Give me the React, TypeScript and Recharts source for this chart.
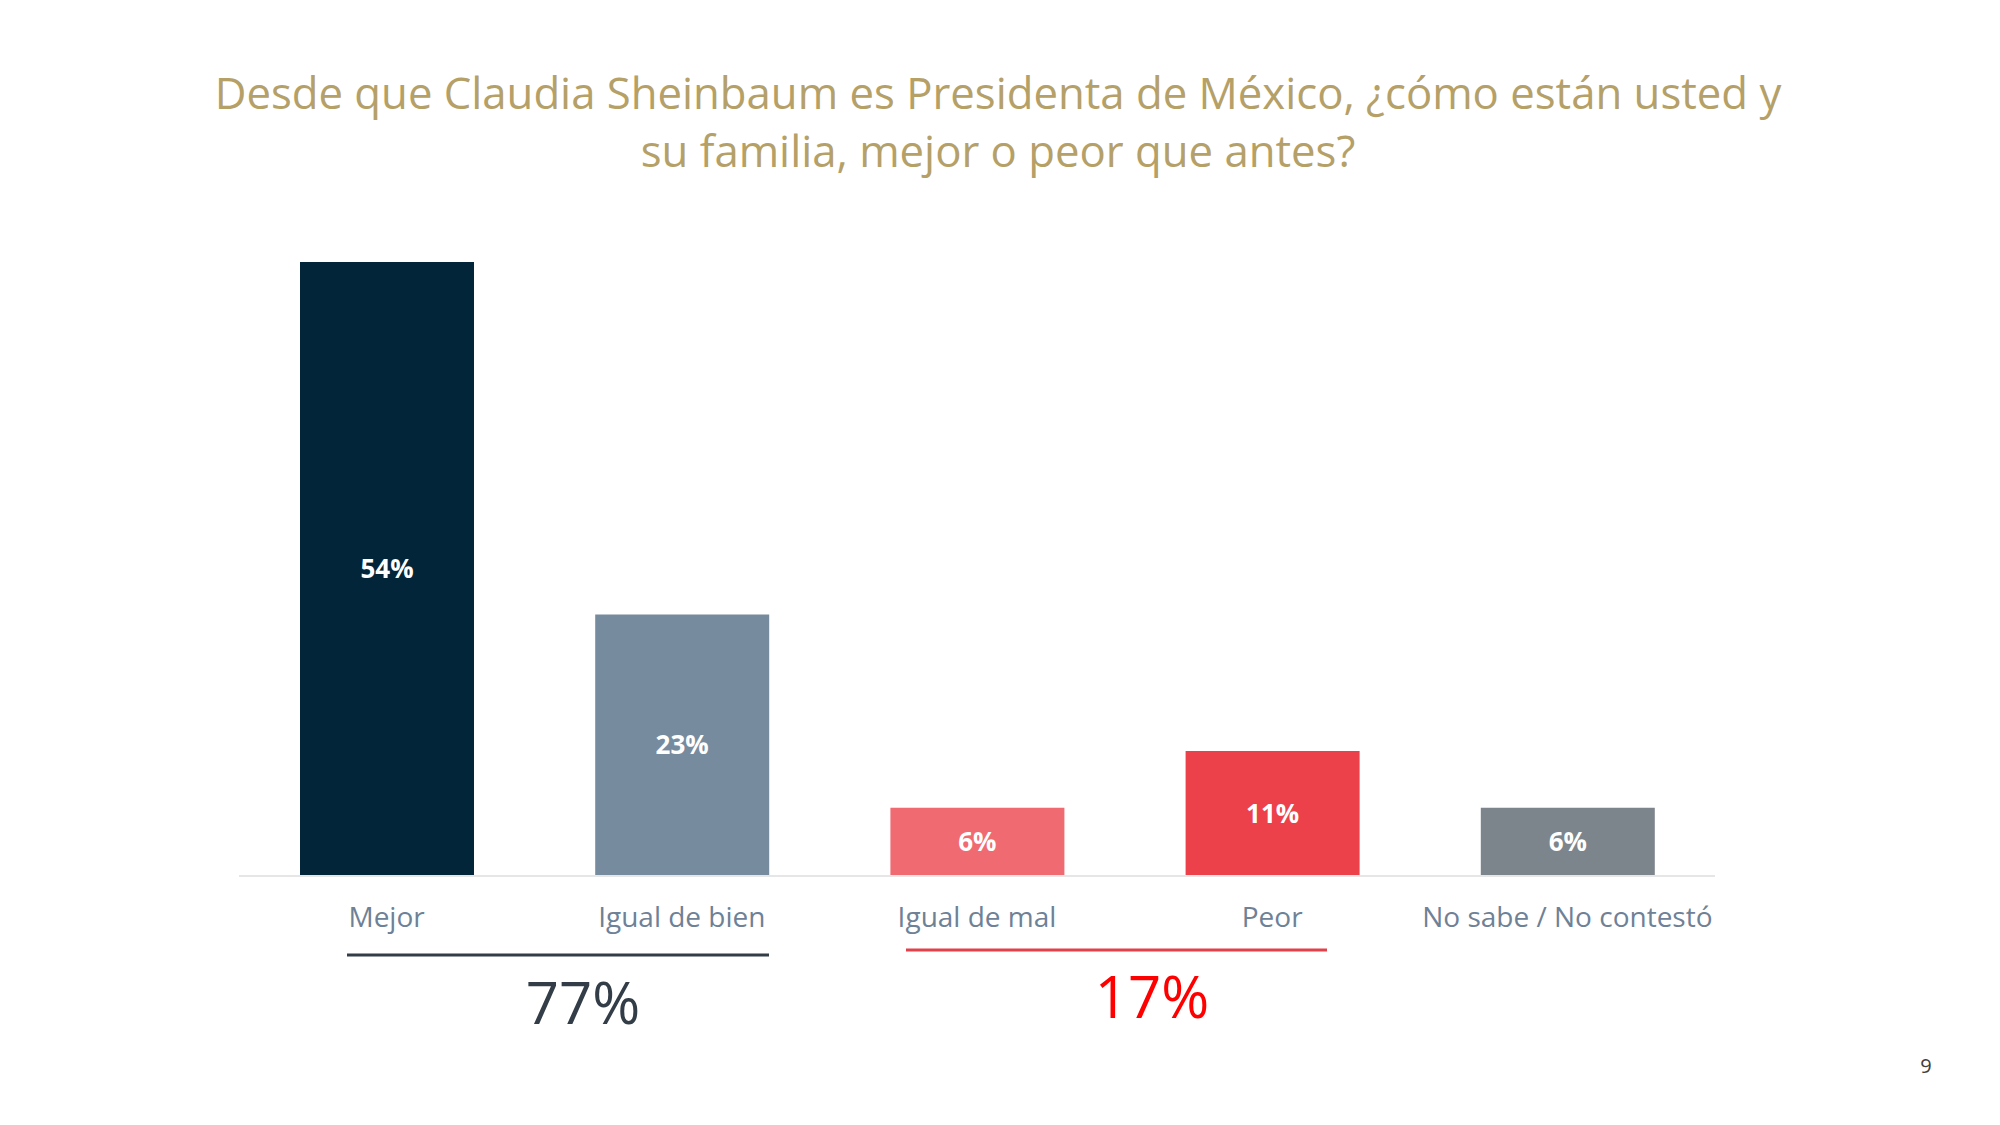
import React from "react"
import { BarChart, Bar, XAxis, YAxis, Cell, LabelList } from "recharts"

const categories = ["Mejor", "Igual de bien", "Igual de mal", "Peor", "No sabe / No contestó"]
const values = [54, 23, 6, 11, 6]
const barColors = ["#032539", "#778B9E", "#F06A72", "#EC404A", "#7D858C"]

// grupos: índices de categorías sumadas
const positiveGroup = [0, 1]
const negativeGroup = [2, 3]

const title = [
  "Desde que Claudia Sheinbaum es Presidenta de México, ¿cómo están usted y",
  "su familia, mejor o peor que antes?",
]

const data = categories.map((name, i) => ({ name, value: values[i] }))
const sumOf = (idx: number[]) => idx.reduce((s, i) => s + values[i], 0)

const FONT = "'Open Sans', sans-serif"

function CategoryTick(props: any) {
  const { x, y, payload } = props
  return (
    <text x={x} y={y + 43} textAnchor="middle" fill="#6E8196" fontSize={28} fontFamily={FONT}>
      {payload.value}
    </text>
  )
}

export default function App() {
  return (
    <div style={{ position: "absolute", left: 0, top: 0, width: 2000, height: 1125, background: "#fff", fontFamily: FONT }}>
      {/* Título */}
      <svg width={2000} height={200} style={{ position: "absolute", left: 0, top: 0 }}>
        <text x={998} y={109} textAnchor="middle" fill="#B5A068" fontSize={43.7} fontFamily={FONT}>
          {title[0]}
        </text>
        <text x={998} y={167} textAnchor="middle" fill="#B5A068" fontSize={43.7} fontFamily={FONT}>
          {title[1]}
        </text>
      </svg>

      <div style={{ position: "absolute", left: 0, top: 0 }}>
        <BarChart
          width={2000}
          height={1125}
          data={data}
          margin={{ top: 262, right: 285, bottom: 189, left: 239 }}
        >
          <YAxis hide width={0} domain={[0, 54]} />
          <XAxis
            dataKey="name"
            height={60}
            axisLine={{ stroke: "#E6E6E6", strokeWidth: 2 }}
            tickLine={false}
            interval={0}
            tick={<CategoryTick />}
          />
          <Bar dataKey="value" barSize={174} isAnimationActive={false}>
            {data.map((d, i) => (
              <Cell key={d.name} fill={barColors[i]} />
            ))}
            <LabelList
              dataKey="value"
              position="center"
              fill="#FFFFFF"
              fontSize={26}
              fontWeight="bold"
              fontFamily={FONT}
              formatter={(v: any) => `${v}%`}
            />
          </Bar>
        </BarChart>
      </div>

      {/* Totales agrupados */}
      <svg width={2000} height={1125} style={{ position: "absolute", left: 0, top: 0, pointerEvents: "none" }}>
        <line x1={347} x2={769} y1={955} y2={955} stroke="#333D47" strokeWidth={3} />
        <text x={583} y={1024} textAnchor="middle" fill="#333D47" fontSize={58} fontFamily={FONT}>
          {sumOf(positiveGroup)}%
        </text>
        <line x1={906} x2={1327} y1={950} y2={950} stroke="#E2414C" strokeWidth={3} />
        <text x={1152} y={1018} textAnchor="middle" fill="#FF0000" fontSize={58} fontFamily={FONT}>
          {sumOf(negativeGroup)}%
        </text>
        <text x={1926} y={1073} textAnchor="middle" fill="#404040" fontSize={20} fontFamily={FONT}>
          9
        </text>
      </svg>
    </div>
  )
}
